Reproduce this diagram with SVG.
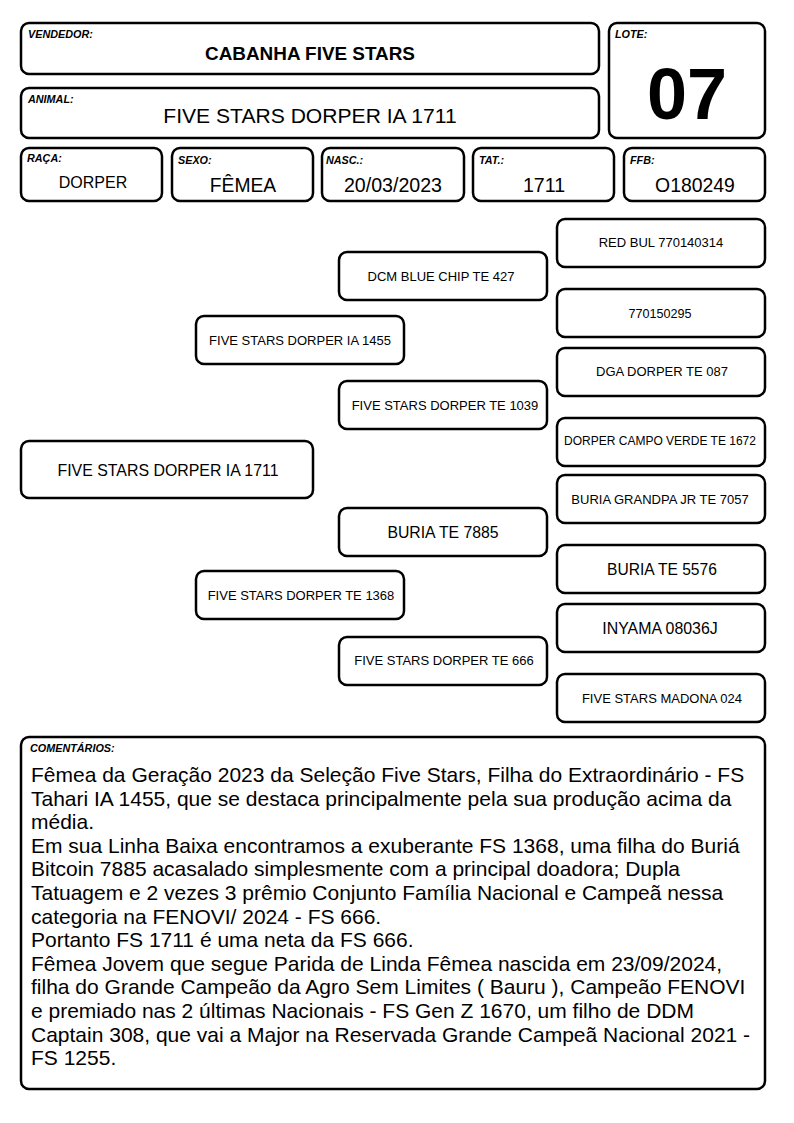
<svg xmlns="http://www.w3.org/2000/svg" width="794" height="1123" viewBox="0 0 794 1123">
<style>
.b{fill:#fff;stroke:#000;stroke-width:2.5}
.lb{font-family:"Liberation Sans",Arial,sans-serif;font-size:10.8px;font-weight:bold;font-style:italic}
.v{font-family:"Liberation Sans",Arial,sans-serif;text-anchor:middle}
.n{font-family:"Liberation Sans",Arial,sans-serif;font-size:13px;text-anchor:middle}
.c{font-family:"Liberation Sans",Arial,sans-serif;font-size:21px}
</style>
<rect width="794" height="1123" fill="#fff"/>
<g id="vendedor"><rect class="b" x="21" y="23" width="578" height="51" rx="8"/><text class="lb" x="28" y="38">VENDEDOR:</text><text class="v" x="310" y="60" font-size="18.9" font-weight="bold">CABANHA FIVE STARS</text></g>
<g id="lote"><rect class="b" x="609" y="23" width="156" height="115" rx="8"/><text class="lb" x="615" y="38">LOTE:</text><text class="v" x="687" y="119" font-size="72" font-weight="bold">07</text></g>
<g id="animal"><rect class="b" x="21" y="88" width="578" height="50" rx="8"/><text class="lb" x="28" y="103">ANIMAL:</text><text class="v" x="310" y="123" font-size="21.1">FIVE STARS DORPER IA 1711</text></g>
<g id="raca"><rect class="b" x="21" y="148" width="141" height="53" rx="8"/><text class="lb" x="27" y="162">RAÇA:</text><text class="v" x="93" y="188" font-size="16">DORPER</text></g>
<g id="sexo"><rect class="b" x="172" y="148" width="141" height="53" rx="8"/><text class="lb" x="178" y="164">SEXO:</text><text class="v" x="243" y="192" font-size="19.3">FÊMEA</text></g>
<g id="nasc"><rect class="b" x="322" y="148" width="142" height="53" rx="8"/><text class="lb" x="326" y="164">NASC.:</text><text class="v" x="393" y="192" font-size="19.6">20/03/2023</text></g>
<g id="tat"><rect class="b" x="473" y="148" width="141" height="53" rx="8"/><text class="lb" x="479" y="164">TAT.:</text><text class="v" x="544" y="192" font-size="19.6">1711</text></g>
<g id="ffb"><rect class="b" x="624" y="148" width="141" height="53" rx="8"/><text class="lb" x="630" y="164">FFB:</text><text class="v" x="695" y="192" font-size="19.4">O180249</text></g>
<g id="connectors"></g>
<g id="n1"><rect class="b" x="21" y="441" width="292" height="57" rx="8"/><text class="v" x="168" y="476" font-size="15.9">FIVE STARS DORPER IA 1711</text></g>
<g id="n2"><rect class="b" x="196" y="316" width="208" height="48" rx="8"/><text class="n" x="300" y="345">FIVE STARS DORPER IA 1455</text></g>
<g id="n3"><rect class="b" x="196" y="571" width="208" height="48" rx="8"/><text class="n" x="301" y="600">FIVE STARS DORPER TE 1368</text></g>
<g id="n4"><rect class="b" x="339" y="252" width="208" height="48" rx="8"/><text class="n" x="441" y="281">DCM BLUE CHIP TE 427</text></g>
<g id="n5"><rect class="b" x="339" y="381" width="208" height="48" rx="8"/><text class="n" x="445" y="410">FIVE STARS DORPER TE 1039</text></g>
<g id="n6"><rect class="b" x="339" y="508" width="208" height="48" rx="8"/><text class="v" x="443" y="538" font-size="15.8">BURIA TE 7885</text></g>
<g id="n7"><rect class="b" x="339" y="637" width="208" height="48" rx="8"/><text class="n" x="444" y="665">FIVE STARS DORPER TE 666</text></g>
<g id="n8"><rect class="b" x="557" y="219" width="208" height="48" rx="8"/><text class="n" x="661" y="247">RED BUL 770140314</text></g>
<g id="n9"><rect class="b" x="557" y="289" width="208" height="48" rx="8"/><text class="n" x="660" y="318" style="font-size:12.6px">770150295</text></g>
<g id="n10"><rect class="b" x="557" y="348" width="208" height="48" rx="8"/><text class="n" x="662" y="376">DGA DORPER TE 087</text></g>
<g id="n11"><rect class="b" x="557" y="418" width="208" height="48" rx="8"/><text class="n" x="660" y="445" style="font-size:12px">DORPER CAMPO VERDE TE 1672</text></g>
<g id="n12"><rect class="b" x="557" y="475" width="208" height="48" rx="8"/><text class="n" x="660" y="504">BURIA GRANDPA JR TE 7057</text></g>
<g id="n13"><rect class="b" x="557" y="545" width="208" height="48" rx="8"/><text class="v" x="662" y="575" font-size="15.6">BURIA TE 5576</text></g>
<g id="n14"><rect class="b" x="557" y="604" width="208" height="48" rx="8"/><text class="v" x="660" y="634" font-size="15.9">INYAMA 08036J</text></g>
<g id="n15"><rect class="b" x="557" y="674" width="208" height="48" rx="8"/><text class="n" x="662" y="703">FIVE STARS MADONA 024</text></g>
<g id="comentarios"><rect class="b" x="21" y="737" width="744" height="352" rx="8"/><text class="lb" x="30" y="752">COMENTÁRIOS:</text>
<text class="c" x="31" y="782">
<tspan x="31" y="782">Fêmea da Geração 2023 da Seleção Five Stars, Filha do Extraordinário - FS</tspan>
<tspan x="31" y="805.6">Tahari IA 1455, que se destaca principalmente pela sua produção acima da</tspan>
<tspan x="31" y="829.2">média.</tspan>
<tspan x="31" y="852.8">Em sua Linha Baixa encontramos a exuberante FS 1368, uma filha do Buriá</tspan>
<tspan x="31" y="876.4">Bitcoin 7885 acasalado simplesmente com a principal doadora; Dupla</tspan>
<tspan x="31" y="900">Tatuagem e 2 vezes 3 prêmio Conjunto Família Nacional e Campeã nessa</tspan>
<tspan x="31" y="923.6">categoria na FENOVI/ 2024 - FS 666.</tspan>
<tspan x="31" y="947.2">Portanto FS 1711 é uma neta da FS 666.</tspan>
<tspan x="31" y="970.8">Fêmea Jovem que segue Parida de Linda Fêmea nascida em 23/09/2024,</tspan>
<tspan x="31" y="994.4">filha do Grande Campeão da Agro Sem Limites ( Bauru ), Campeão FENOVI</tspan>
<tspan x="31" y="1018">e premiado nas 2 últimas Nacionais - FS Gen Z 1670, um filho de DDM</tspan>
<tspan x="31" y="1041.6">Captain 308, que vai a Major na Reservada Grande Campeã Nacional 2021 -</tspan>
<tspan x="31" y="1065.2">FS 1255.</tspan>
</text></g>
</svg>
